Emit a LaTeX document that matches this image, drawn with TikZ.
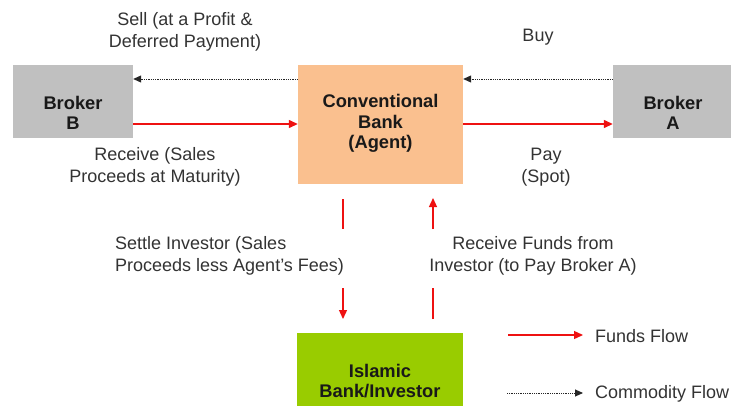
\documentclass[tikz,border=0pt]{standalone}
\usepackage{fontspec}
\setmainfont{Liberation Sans}
\usetikzlibrary{arrows.meta}
\definecolor{boxgray}{HTML}{C0C0C0}
\definecolor{peach}{HTML}{FAC08F}
\definecolor{islgreen}{HTML}{99CC00}
\definecolor{txtgray}{HTML}{333333}
\definecolor{fundred}{HTML}{EE1111}
\tikzset{
  box/.style={draw=none, rectangle, inner sep=0pt},
  boxtext/.style={font=\fontsize{18.3}{20.5}\selectfont\bfseries, text=black!90, align=center, inner sep=0pt},
  lbl/.style={font=\fontsize{18}{22.5}\selectfont, text=txtgray, align=center, inner sep=0pt},
  funds/.style={draw=fundred, line width=1.3pt, -{Triangle[length=9pt,width=8pt]}},
  fundsline/.style={draw=fundred, line width=1.3pt},
  commod/.style={draw=black!85, line width=0.9pt, dash pattern=on 0.9pt off 0.9pt, -{Triangle[length=8pt,width=7pt]}}
}
\begin{document}
\begin{tikzpicture}[x=1pt,y=-1pt]
\path[use as bounding box, fill=white] (0,0) rectangle (731,405);
% boxes
\node[box, fill=boxgray, minimum width=120pt, minimum height=73pt] (bb) at (73,101.5) {};
\node[box, fill=peach, minimum width=165pt, minimum height=119pt] (bank) at (380.5,124.5) {};
\node[box, fill=boxgray, minimum width=120pt, minimum height=73pt] (ba) at (673,101.5) {};
\node[box, fill=islgreen, minimum width=166pt, minimum height=80pt] (isl) at (380,373) {};
% box texts
\node[boxtext] (bbt) at (73,113) {Broker\\B};
\node[boxtext] (bat) at (673,113) {Broker\\A};
\node[boxtext] (bankt) at (380.5,123.5) {Conventional\\Bank\\(Agent)};
\node[boxtext] (islt) at (380,381) {Islamic\\Bank/Investor};
% horizontal levels
\coordinate (ytop) at (0,79);
\coordinate (ybot) at (0,124);
% horizontal connectors
\draw[commod] (bank.west |- ytop) -- (bb.east |- ytop);
\draw[commod] (ba.west |- ytop) -- (bank.east |- ytop);
\draw[funds] (bb.east |- ybot) -- (bank.west |- ybot);
\draw[funds] (bank.east |- ybot) -- (ba.west |- ybot);
% vertical connectors
\coordinate (l1) at (343,199);
\coordinate (l2) at (343,229);
\coordinate (l3) at (343,288);
\coordinate (l4) at (343,319);
\coordinate (r1) at (433,198);
\coordinate (r2) at (433,229);
\coordinate (r3) at (433,288);
\coordinate (r4) at (433,319);
\draw[fundsline] (l1) -- (l2);
\draw[funds] (l3) -- (l4);
\draw[funds] (r2) -- (r1);
\draw[fundsline] (r4) -- (r3);
% labels
\node[lbl] (sell) at (185,32) {Sell (at a Profit \&\\Deferred Payment)};
\node[lbl] (recv) at (155,167) {Receive (Sales\\Proceeds at Maturity)};
\node[lbl] (buy) at (538,37) {Buy};
\node[lbl] (pay) at (546,167) {Pay\\(Spot)};
\node[lbl, align=left, anchor=west] (settle) at (115,256) {Settle Investor (Sales\\Proceeds less Agent's Fees)};
\node[lbl] (recf) at (533,256) {Receive Funds from\\Investor (to Pay Broker A)};
% legend
\coordinate (lf1) at (508,335);
\coordinate (lf2) at (583,335);
\coordinate (lc1) at (507,393);
\coordinate (lc2) at (583,393);
\draw[funds] (lf1) -- (lf2);
\draw[commod] (lc1) -- (lc2);
\node[lbl, anchor=west] (lft) at (595,336) {Funds Flow};
\node[lbl, anchor=west] (lct) at (595,394) {Commodity Flow};
\end{tikzpicture}
\end{document}
